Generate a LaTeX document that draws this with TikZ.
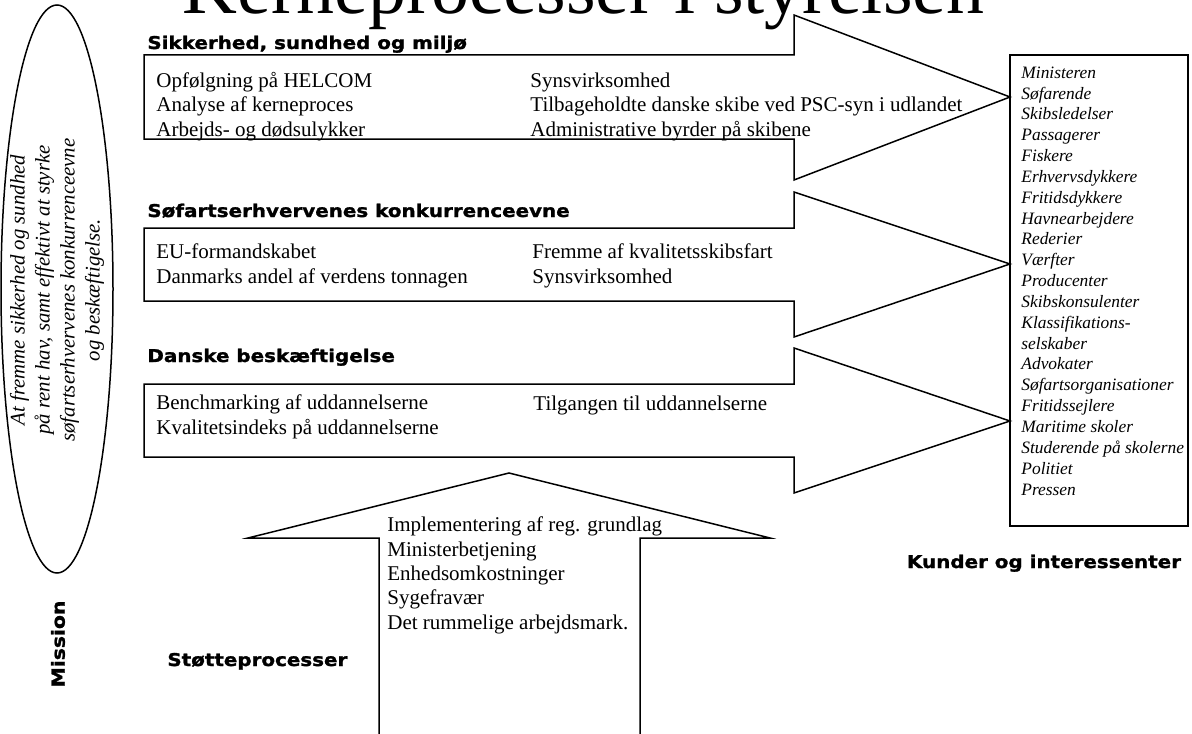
\documentclass[tikz,border=0pt]{standalone}
\usepackage{fontspec}
\setmainfont{Liberation Serif}
\newfontfamily\hdrfont{DejaVu Sans}[FakeStretch=1.13,FakeBold=1.4]

\begin{document}
\begin{tikzpicture}[x=0.5pt,y=-0.5pt,
    pil/.style={draw=black,line width=0.75pt,line join=miter},
    hdr/.style={anchor=base west,inner sep=0pt,font=\hdrfont\bfseries\fontsize{8.8pt}{10pt}\selectfont},
    txt/.style={anchor=base west,inner sep=0pt,align=left,font=\fontsize{10.5pt}{12.15pt}\selectfont},
    kunde/.style={anchor=base west,inner sep=0pt,align=left,font=\itshape\fontsize{8.7pt}{10.42pt}\selectfont}]
  \clip (0,0) rectangle (1192,733);
  \fill[white] (0,0) rectangle (1192,733);

  % titel
  \node[anchor=base west,inner sep=0pt,font=\fontsize{38pt}{40pt}\selectfont] (titel) at (182,14) {Kerneprocesser i styrelsen};

  % mission
  \draw[line width=0.75pt] (57,289) ellipse [x radius=56,y radius=284];
  \node[rotate=90,align=center,inner sep=0pt,font=\itshape\fontsize{10.4pt}{12.5pt}\selectfont] (missiontxt) at (57,290)
    {At fremme sikkerhed og sundhed\\på rent hav, samt effektivt at styrke\\søfartserhvervenes konkurrenceevne\\og beskæftigelse.};
  \node[rotate=90,inner sep=0pt,font=\hdrfont\bfseries\fontsize{9pt}{10pt}\selectfont] (mission) at (58,644) {Mission};

  % kerneprocesser (tekst sat efter sidste linjes grundlinje)
  \draw[pil] (144,55) -- (794,55) -- (794,15) -- (1010,97) -- (794,180) -- (794,139) -- (144,139) -- cycle;
  \draw[pil] (144,228) -- (794,228) -- (794,192) -- (1010,264) -- (794,337) -- (794,301) -- (144,301) -- cycle;
  \draw[pil] (144,384) -- (794,384) -- (794,348) -- (1010,421) -- (794,493) -- (794,457) -- (144,457) -- cycle;

  \node[hdr] (sikkerhed) at (147,49) {Sikkerhed, sundhed og miljø};
  \node[txt] (sik1) at (156,136) {Opfølgning på HELCOM\\Analyse af kerneproces\\Arbejds- og dødsulykker};
  \node[txt] (sik2) at (530,136) {Synsvirksomhed\\Tilbageholdte danske skibe ved PSC-syn i udlandet\\Administrative byrder på skibene};

  \node[hdr] (konkurrence) at (147,217) {Søfartserhvervenes konkurrenceevne};
  \node[txt] (kon1) at (156,283) {EU-formandskabet\\Danmarks andel af verdens tonnagen};
  \node[txt] (kon2) at (532,283) {Fremme af kvalitetsskibsfart\\Synsvirksomhed};

  \node[hdr] (beskaeftigelse) at (147,362) {Danske beskæftigelse};
  \node[txt] (bes1) at (156,434) {Benchmarking af uddannelserne\\Kvalitetsindeks på uddannelserne};
  \node[txt] (bes2) at (533,410) {Tilgangen til uddannelserne};

  % kunder
  \draw[line width=0.75pt] (1010,55) rectangle (1188,526);
  \node[kunde] (kunder) at (1021,495) {Ministeren\\Søfarende\\Skibsledelser\\Passagerer\\Fiskere\\Erhvervsdykkere\\Fritidsdykkere\\Havnearbejdere\\Rederier\\Værfter\\Producenter\\Skibskonsulenter\\Klassifikations-\\selskaber\\Advokater\\Søfartsorganisationer\\Fritidssejlere\\Maritime skoler\\Studerende på skolerne\\Politiet\\Pressen};
  \node[hdr,anchor=base] (kunderhdr) at (1044,568) {Kunder og interessenter};

  % stoetteprocesser
  \draw[pil] (379,740) -- (379,538) -- (248,538) -- (509,473) -- (770,538) -- (640,538) -- (640,740);
  \node[txt] (stoette) at (387,629) {Implementering af reg. grundlag\\Ministerbetjening\\Enhedsomkostninger\\Sygefravær\\Det rummelige arbejdsmark.};
  \node[hdr] (stoettehdr) at (167,666) {Støtteprocesser};
\end{tikzpicture}
\end{document}
